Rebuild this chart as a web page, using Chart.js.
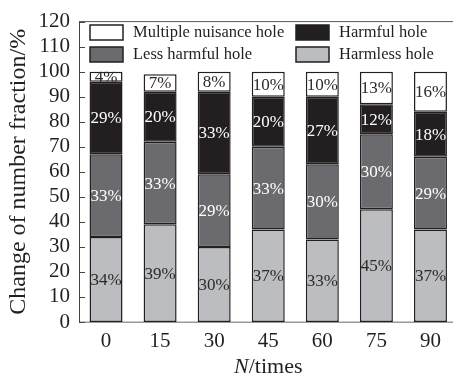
<!DOCTYPE html>
<html>
<head>
<meta charset="utf-8">
<script src="https://cdn.jsdelivr.net/npm/chart.js@4/dist/chart.umd.min.js"></script>
<style>
  html, body { margin: 0; padding: 0; background: #fff; overflow: hidden; width: 453px; height: 378px; }
  canvas { display: block; }
</style>
</head>
<body>
<canvas id="c" width="462" height="378"></canvas>
<script>
// Cycle counts on the x axis
const cycles = ['0', '15', '30', '45', '60', '75', '90'];

// Number fraction of each hole type (%), stacked bottom to top
const harmless    = [34, 39, 30, 37, 33, 45, 37];
const lessHarmful = [33, 33, 29, 33, 30, 30, 29];
const harmful     = [29, 20, 33, 20, 27, 12, 18];
const nuisance    = [4, 7, 8, 10, 10, 13, 16];

// y axis range
const yMin = 0, yMax = 120, yStep = 10;

const SERIF = '"Liberation Serif", "Times New Roman", serif';
const INK = '#231f20';

const series = [
  { label: 'Harmless hole',          data: harmless,    fill: '#bcbdc0', text: '#2a2a2a' },
  { label: 'Less harmful hole',      data: lessHarmful, fill: '#6b6b6f', text: '#ffffff' },
  { label: 'Harmful hole',           data: harmful,     fill: '#231f20', text: '#ffffff' },
  { label: 'Multiple nuisance hole', data: nuisance,    fill: '#ffffff', text: '#2a2a2a' }
];

// Legend layout: two rows, two columns
const legendOrder = [
  { idx: 3, col: 0, row: 0 },
  { idx: 2, col: 1, row: 0 },
  { idx: 1, col: 0, row: 1 },
  { idx: 0, col: 1, row: 1 }
];

const framePlugin = {
  id: 'frame',
  beforeDatasetsDraw(chart) {
    const { ctx, chartArea: a, scales: { y } } = chart;
    ctx.save();
    // bottom axis
    ctx.strokeStyle = '#9a9a9a';
    ctx.lineWidth = 1.5;
    ctx.beginPath();
    ctx.moveTo(a.left, a.bottom + 0.25);
    ctx.lineTo(a.right, a.bottom + 0.25);
    ctx.stroke();
    // top frame line
    ctx.strokeStyle = '#555';
    ctx.lineWidth = 1;
    ctx.beginPath();
    ctx.moveTo(a.left, a.top);
    ctx.lineTo(a.right, a.top);
    ctx.stroke();
    // left axis with inward ticks
    ctx.strokeStyle = '#444';
    ctx.beginPath();
    ctx.moveTo(a.left + 0.5, a.top);
    ctx.lineTo(a.left + 0.5, a.bottom);
    y.ticks.forEach((t, i) => {
      const py = Math.round(y.getPixelForTick(i)) + 0.5;
      ctx.moveTo(a.left, py);
      ctx.lineTo(a.left + 6, py);
    });
    ctx.stroke();
    ctx.restore();
  },
  afterDatasetsDraw(chart) {
    const { ctx } = chart;
    // value labels inside each segment
    ctx.save();
    ctx.font = '17px ' + SERIF;
    ctx.textAlign = 'center';
    ctx.textBaseline = 'middle';
    chart.data.datasets.forEach((ds, di) => {
      const meta = chart.getDatasetMeta(di);
      meta.data.forEach((el, j) => {
        const top = Math.min(el.y, el.base), bot = Math.max(el.y, el.base);
        ctx.save();
        ctx.beginPath();
        ctx.rect(el.x - el.width / 2, top, el.width, bot - top);
        ctx.clip();
        ctx.fillStyle = series[di].text;
        ctx.fillText(ds.data[j] + '%', el.x, (top + bot) / 2 + 1);
        ctx.restore();
      });
    });
    ctx.restore();
  },
  afterDraw(chart) {
    const { ctx, chartArea: a } = chart;
    ctx.save();
    // legend
    ctx.font = '16.5px ' + SERIF;
    ctx.textBaseline = 'middle';
    ctx.textAlign = 'left';
    legendOrder.forEach(it => {
      const bx = it.col === 0 ? 90 : 296;
      const by = it.row === 0 ? 25 : 47;
      ctx.fillStyle = series[it.idx].fill;
      ctx.fillRect(bx, by, 33, 15);
      ctx.strokeStyle = INK;
      ctx.lineWidth = 1.5;
      ctx.strokeRect(bx, by, 33, 15);
      ctx.fillStyle = INK;
      ctx.fillText(series[it.idx].label, bx + 43, by + 8);
    });
    // axis titles
    ctx.fillStyle = INK;
    ctx.textAlign = 'center';
    ctx.font = '24px ' + SERIF;
    ctx.save();
    ctx.translate(19, (a.top + a.bottom) / 2);
    ctx.rotate(-Math.PI / 2);
    ctx.fillText('Change of number fraction/%', 0, 0);
    ctx.restore();
    ctx.font = 'italic 22px ' + SERIF;
    const nW = ctx.measureText('N').width;
    ctx.font = '22px ' + SERIF;
    const restW = ctx.measureText('/times').width;
    const cx = (a.left + a.right) / 2;
    const x0 = cx - (nW + restW) / 2;
    ctx.textAlign = 'left';
    ctx.font = 'italic 22px ' + SERIF;
    ctx.fillText('N', x0, 367);
    ctx.font = '22px ' + SERIF;
    ctx.fillText('/times', x0 + nW, 367);
    ctx.restore();
  }
};

new Chart(document.getElementById('c'), {
  type: 'bar',
  data: {
    labels: cycles,
    datasets: series.map(s => ({
      label: s.label,
      data: s.data,
      backgroundColor: s.fill,
      borderColor: INK,
      borderWidth: 1.5,
      borderSkipped: false,
      categoryPercentage: 1,
      barPercentage: 0.61
    }))
  },
  options: {
    responsive: false,
    animation: false,
    devicePixelRatio: 1,
    layout: { padding: { top: 18.5, right: 4.5, left: 0, bottom: 0 } },
    plugins: { legend: { display: false }, tooltip: { enabled: false } },
    scales: {
      x: {
        stacked: true,
        grid: { display: false, drawTicks: false },
        border: { display: false },
        ticks: { color: INK, font: { family: SERIF, size: 21 }, padding: 7, maxRotation: 0, autoSkip: false },
        afterFit(s) { s.height = 56; }
      },
      y: {
        stacked: true,
        min: yMin, max: yMax,
        grid: { display: false, drawTicks: false },
        border: { display: false },
        ticks: { stepSize: yStep, color: INK, font: { family: SERIF, size: 21 }, padding: 9, autoSkip: false },
        afterFit(s) { s.width = 79; }
      }
    }
  },
  plugins: [framePlugin]
});
</script>
</body>
</html>
